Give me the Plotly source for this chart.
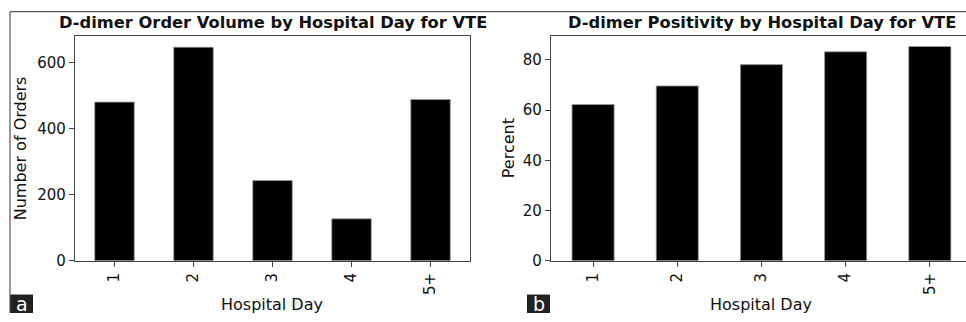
import plotly.graph_objects as go

days = ["1", "2", "3", "4", "5+"]
order_volume = [480, 646, 243, 127, 488]
positivity_pct = [62.2, 69.6, 78.1, 83.2, 85.3]

W, H = 966, 322
FONT = "DejaVu Sans"
AXC = "#444444"

def px_x(p):
    return p / W

def px_y(p):
    return 1 - p / H

fig = go.Figure()
fig.add_trace(go.Bar(x=days, y=order_volume, width=0.5, marker=dict(color="black", line=dict(color="#9a9a9a", width=0.8)),
                     xaxis="x", yaxis="y", showlegend=False))
fig.add_trace(go.Bar(x=days, y=positivity_pct, width=0.5, marker=dict(color="black", line=dict(color="#9a9a9a", width=0.8)),
                     xaxis="x2", yaxis="y2", showlegend=False))

ydom = [px_y(268.3), px_y(37)]
common_x = dict(type="category", tickangle=-90, ticks="outside", ticklen=5, tickcolor=AXC,
                showline=True, linecolor=AXC, linewidth=1.2, mirror=True, showgrid=False,
                tickfont=dict(family=FONT, size=15, color="#111"), zeroline=False)
common_y = dict(ticks="outside", ticklen=5, tickcolor=AXC, showline=True, linecolor=AXC, linewidth=1.2,
                showgrid=False, zeroline=False, tickfont=dict(family=FONT, size=15, color="#111"))

fig.update_layout(
    width=W, height=H, margin=dict(l=0, r=0, t=0, b=0),
    plot_bgcolor="white", paper_bgcolor="white",
    xaxis=dict(domain=[px_x(75), px_x(470)], range=[-0.5, 4.5], anchor="y", **common_x),
    yaxis=dict(domain=ydom, range=[0, 680], tickvals=[0, 200, 400, 600], anchor="x", mirror=True, **common_y),
    xaxis2=dict(domain=[px_x(551), 1.0], range=[-0.5, 4.43], anchor="y2", **common_x),
    yaxis2=dict(domain=ydom, range=[0, 89.5], tickvals=[0, 20, 40, 60, 80], anchor="x2", mirror=False, **common_y),
)

ann = []
def text(x, y, s, size, bold=False, angle=0, color="#111"):
    ann.append(dict(x=px_x(x), y=px_y(y), xref="paper", yref="paper", text=("<b>%s</b>" % s) if bold else s,
                    showarrow=False, xanchor="center", yanchor="middle", textangle=angle,
                    font=dict(family=FONT, size=size, color=color)))

text(272.5, 23, "D-dimer Order Volume by Hospital Day for VTE", 16.3, bold=True)
text(761.5, 23, "D-dimer Positivity by Hospital Day for VTE", 16.3, bold=True)
text(271.5, 313, "Hospital Day", 16)
text(761, 313, "Hospital Day", 16)
text(20, 152.5, "Number of Orders", 16, angle=-90)
text(508, 152.5, "Percent", 16, angle=-90)
text(21.5, 313, "a", 19, color="white")
text(538.5, 313, "b", 19, color="white")
fig.update_layout(annotations=ann)

shapes = [
    dict(type="line", xref="paper", yref="paper", x0=px_x(10), x1=1, y0=px_y(12), y1=px_y(12), line=dict(color="#555", width=1.2)),
    dict(type="line", xref="paper", yref="paper", x0=px_x(10), x1=px_x(10), y0=px_y(12), y1=0, line=dict(color="#555", width=1.2)),
    dict(type="rect", xref="paper", yref="paper", x0=px_x(10), x1=px_x(33), y0=0, y1=px_y(303), fillcolor="#222", line=dict(width=0), layer="below"),
    dict(type="rect", xref="paper", yref="paper", x0=px_x(527), x1=px_x(550), y0=0, y1=px_y(303), fillcolor="#222", line=dict(width=0), layer="below"),
]
fig.update_layout(shapes=shapes)

fig.write_html("out.html", config={"displayModeBar": False},
               post_script="document.body.style.margin='0';document.body.style.overflow='hidden';")
